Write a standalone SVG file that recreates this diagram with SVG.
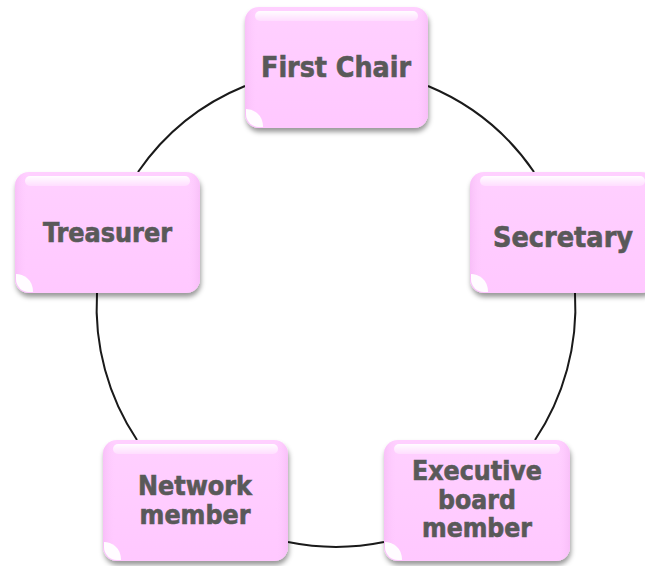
<svg xmlns="http://www.w3.org/2000/svg" width="645" height="566" viewBox="0 0 645 566">
<defs>
<linearGradient id="fillG" x1="0" y1="0" x2="0" y2="1">
<stop offset="0" stop-color="#FFD0FF"/>
<stop offset="0.5" stop-color="#FFCCFF"/>
<stop offset="1" stop-color="#FFC8FF"/>
</linearGradient>
<linearGradient id="hiG" x1="0" y1="0" x2="0" y2="1">
<stop offset="0" stop-color="#FFFFFF" stop-opacity="0.95"/>
<stop offset="1" stop-color="#FFFFFF" stop-opacity="0.3"/>
</linearGradient>
<linearGradient id="edgeG" x1="0" y1="0" x2="1" y2="0">
<stop offset="0" stop-color="#F3B6F3" stop-opacity="0.6"/>
<stop offset="0.07" stop-color="#FFCCFF" stop-opacity="0"/>
<stop offset="0.93" stop-color="#FFCCFF" stop-opacity="0"/>
<stop offset="1" stop-color="#F3B6F3" stop-opacity="0.6"/>
</linearGradient>
<filter id="sh" x="-10%" y="-10%" width="125%" height="130%">
<feDropShadow dx="1" dy="4" stdDeviation="2.5" flood-color="#000000" flood-opacity="0.4"/>
</filter>
<path id="glint" d="M0,-18 L0,-13 A13,13 0 0 0 13,0 L17,0 Q17,-9 11,-14 Q6,-18 0,-18Z"/>
</defs>
<style>
.box{fill:url(#fillG);filter:url(#sh);}
.edge{fill:url(#edgeG);}
.hi{fill:url(#hiG);}
.glint{fill:#FFFFFF;opacity:0.95;}
.lbl{font-family:"DejaVu Sans Condensed","DejaVu Sans","Liberation Sans",sans-serif;font-weight:bold;fill:#595959;stroke:#595959;stroke-width:0.6;text-anchor:middle;}
.conn{fill:none;stroke:#1a1a1a;stroke-width:2;}
</style>
<g id="connectors">
<path class="conn" d="M428,86 A239.5,239.5 0 0 1 534,172"/>
<path class="conn" d="M575,293 A239.5,239.5 0 0 1 535,440"/>
<path class="conn" d="M384,542 A239.5,239.5 0 0 1 288,542"/>
<path class="conn" d="M137,440 A239.5,239.5 0 0 1 97,293"/>
<path class="conn" d="M138,172 A239.5,239.5 0 0 1 245,86"/>
</g>
<g id="first-chair">
<rect class="box" x="245" y="7" width="183" height="121" rx="14"/>
<rect class="edge" x="245" y="7" width="183" height="121" rx="14"/>
<rect class="hi" x="255" y="11" width="163" height="10" rx="5"/>
<use class="glint" href="#glint" x="246" y="127"/>
<text class="lbl" x="336" y="77" font-size="28.5" textLength="150" lengthAdjust="spacingAndGlyphs">First Chair</text>
</g>
<g id="secretary">
<rect class="box" x="470" y="172" width="185" height="121" rx="14"/>
<rect class="edge" x="470" y="172" width="185" height="121" rx="14"/>
<rect class="hi" x="480" y="176" width="165" height="10" rx="5"/>
<use class="glint" href="#glint" x="471" y="292"/>
<text class="lbl" x="563" y="247" font-size="28" textLength="140" lengthAdjust="spacingAndGlyphs">Secretary</text>
</g>
<g id="treasurer">
<rect class="box" x="15" y="172" width="185" height="121" rx="14"/>
<rect class="edge" x="15" y="172" width="185" height="121" rx="14"/>
<rect class="hi" x="25" y="176" width="165" height="10" rx="5"/>
<use class="glint" href="#glint" x="16" y="292"/>
<text class="lbl" x="107.5" y="241.5" font-size="26" textLength="129" lengthAdjust="spacingAndGlyphs">Treasurer</text>
</g>
<g id="executive-board-member">
<rect class="box" x="384" y="440" width="186" height="121" rx="14"/>
<rect class="edge" x="384" y="440" width="186" height="121" rx="14"/>
<rect class="hi" x="394" y="444" width="166" height="10" rx="5"/>
<use class="glint" href="#glint" x="385" y="560"/>
<text class="lbl" x="477" y="480" font-size="26.3" textLength="130" lengthAdjust="spacingAndGlyphs">Executive</text>
<text class="lbl" x="477" y="508.5" font-size="26.3">board</text>
<text class="lbl" x="477" y="537" font-size="26.3">member</text>
</g>
<g id="network-member">
<rect class="box" x="103" y="440" width="185" height="121" rx="14"/>
<rect class="edge" x="103" y="440" width="185" height="121" rx="14"/>
<rect class="hi" x="113" y="444" width="165" height="10" rx="5"/>
<use class="glint" href="#glint" x="104" y="560"/>
<text class="lbl" x="195" y="495" font-size="26.5" textLength="114" lengthAdjust="spacingAndGlyphs">Network</text>
<text class="lbl" x="195" y="523.5" font-size="26.5">member</text>
</g>
</svg>
